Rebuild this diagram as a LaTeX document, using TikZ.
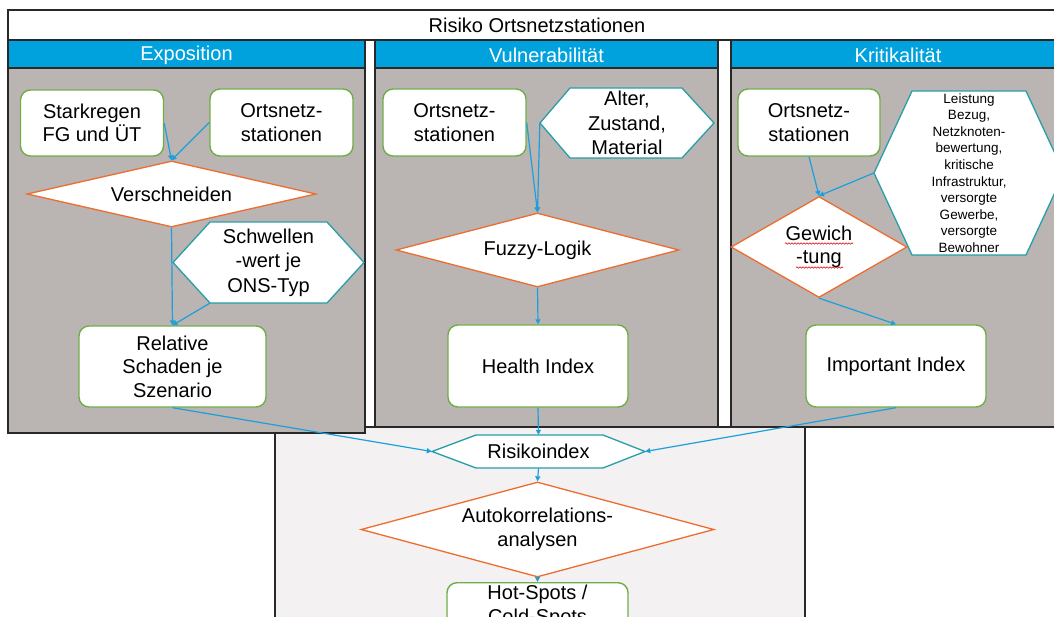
\documentclass[tikz,border=0pt]{standalone}
\usepackage{fontspec}
\setmainfont{Liberation Sans}
\usetikzlibrary{shapes.geometric,arrows.meta,decorations.pathmorphing}
\definecolor{hdrblue}{RGB}{0,162,222}
\definecolor{panelgray}{RGB}{186,180,178}
\definecolor{lowgray}{RGB}{243,241,241}
\definecolor{boxgreen}{RGB}{112,173,71}
\definecolor{dorange}{RGB}{237,109,49}
\definecolor{hexteal}{RGB}{40,158,168}
\definecolor{conblue}{RGB}{27,160,220}
\definecolor{frameblack}{RGB}{40,40,40}
\tikzset{
  pframe/.style={draw=frameblack,line width=1.5pt},
  hdr/.style={pframe,fill=hdrblue},
  pbody/.style={pframe,fill=panelgray},
  hdrtext/.style={text=white,font=\fontsize{20}{24}\selectfont,inner sep=0pt},
  gbox/.style={draw=boxgreen,line width=1.4pt,fill=white,rounded corners=10pt,align=center,font=\fontsize{20}{23.5}\selectfont,inner sep=0pt},
  dmd/.style={diamond,draw=dorange,line width=1.3pt,fill=white,align=center,font=\fontsize{20}{23.5}\selectfont,inner sep=0pt},
  hexline/.style={draw=hexteal,line width=1.3pt,fill=white,line join=miter},
  hextext/.style={align=center,font=\fontsize{20}{24.5}\selectfont,inner sep=0pt},
  conn/.style={draw=conblue,line width=1.2pt,-{Triangle[length=5pt,width=5pt]}},
  squig/.style={draw=red!85!black,line width=0.6pt,decorate,decoration={snake,amplitude=0.7pt,segment length=3pt}}
}
\begin{document}
\begin{tikzpicture}[x=1pt,y=-1pt]
\clip (0,0) rectangle (1054,617);
\fill[white] (0,0) rectangle (1054,617);
% title strip
\draw[pframe,fill=white] (8,10) rectangle (1075,40);
\node[font=\fontsize{20}{24}\selectfont,inner sep=0pt] (title) at (537,25) {Risiko Ortsnetzstationen};
% lower box
\draw[pframe,fill=lowgray] (275,427) rectangle (805,660);
% panels
\draw[pbody] (375,68) rectangle (718,427);
\draw[hdr] (375,40) rectangle (718,68);
\node[hdrtext] (h2) at (546.5,55) {Vulnerabilität};
\draw[pbody] (731,68) rectangle (1075,427);
\draw[hdr] (731,40) rectangle (1075,68);
\node[hdrtext] (h3) at (898,55) {Kritikalität};
\draw[pbody] (8,68) rectangle (365,433);
\draw[hdr] (8,40) rectangle (365,68);
\node[hdrtext] (h1) at (186.5,55) {Exposition};

% ---- Exposition
\node[gbox,minimum width=143pt,minimum height=66pt] (stark) at (92,123) {Starkregen\\FG und ÜT};
\node[gbox,minimum width=143pt,minimum height=67pt] (ons1) at (281.5,122.5) {Ortsnetz-\\stationen};
\node[dmd,aspect=4.38,minimum width=289pt,minimum height=66pt] (vers) at (171.5,194) {Verschneiden};
\path[hexline] (173,262.5) -- (210,222) -- (327,222) -- (364,262.5) -- (327,303) -- (210,303) -- cycle;
\node[hextext,minimum width=191pt,minimum height=81pt] (schw) at (268.5,262.5) {Schwellen\\-wert je\\ONS-Typ};
\node[gbox,minimum width=187pt,minimum height=81pt] (rel) at (172.5,366.5) {Relative\\Schaden je\\Szenario};

% ---- Vulnerabilitaet
\node[gbox,minimum width=143pt,minimum height=67pt] (ons2) at (454.5,122.5) {Ortsnetz-\\stationen};
\path[hexline] (540,123) -- (570,88) -- (682,88) -- (714,123) -- (682,158) -- (570,158) -- cycle;
\node[hextext,minimum width=174pt,minimum height=70pt] (alter) at (627,123) {Alter,\\Zustand,\\Material};
\node[dmd,aspect=3.82,minimum width=283pt,minimum height=74pt] (fuzzy) at (537.5,250) {Fuzzy-Logik};
\node[gbox,minimum width=180pt,minimum height=82pt] (health) at (538,366) {Health Index};

% ---- Kritikalitaet
\node[gbox,minimum width=142pt,minimum height=67pt] (ons3) at (809,122.5) {Ortsnetz-\\stationen};
\path[hexline] (874,173) -- (912,91) -- (1026,91) -- (1064,173) -- (1026,255) -- (912,255) -- cycle;
\node[align=center,inner sep=0pt,font=\fontsize{13.5}{16.6}\selectfont,minimum width=190pt,minimum height=164pt] (krit) at (969,173)
  {Leistung\\Bezug,\\Netzknoten-\\bewertung,\\kritische\\Infrastruktur,\\versorgte\\Gewerbe,\\versorgte\\Bewohner};
\node[dmd,aspect=1.74,minimum width=176pt,minimum height=101pt] (gew) at (819,247) {Gewich\\-tung};
\path[squig] (785,243.5) -- (853,243.5);
\path[squig] (796,267.5) -- (843,267.5);
\node[gbox,minimum width=180pt,minimum height=82pt] (imp) at (896,366) {Important Index};

% ---- lower part
\path[hexline] (432,451.5) -- (476,435) -- (603,435) -- (645,451.5) -- (603,468) -- (476,468) -- cycle;
\node[hextext,minimum width=213pt,minimum height=33pt] (risk) at (538.5,451.5) {Risikoindex};
\node[dmd,aspect=3.72,minimum width=353pt,minimum height=95pt] (auto) at (537.5,529.5) {Autokorrelations-\\analysen};
\node[gbox,anchor=north,minimum width=181pt,inner ysep=2.5pt] (hot) at (537.5,582) {Hot-Spots /\\Cold-Spots};

% ---- connectors
\draw[conn] (stark.east) -- (vers.north);
\draw[conn] (ons1.west) -- (vers.north);
\draw[conn] (vers.south) -- (rel.north);
\draw[conn] ([xshift=37pt]schw.south west) -- (rel.north);
\draw[conn] (ons2.east) -- (fuzzy.north);
\draw[conn] (alter.west) -- (fuzzy.north);
\draw[conn] (fuzzy.south) -- (health.north);
\draw[conn] (ons3.south) -- (gew.north);
\draw[conn] (krit.west) -- (gew.north);
\draw[conn] (gew.south) -- (imp.north);
\draw[conn] (rel.south) -- (risk.west);
\draw[conn] (health.south) -- (risk.north);
\draw[conn] (imp.south) -- (risk.east);
\draw[conn] (risk.south) -- (auto.north);
\draw[conn] (auto.south) -- (hot.north);
\end{tikzpicture}
\end{document}
